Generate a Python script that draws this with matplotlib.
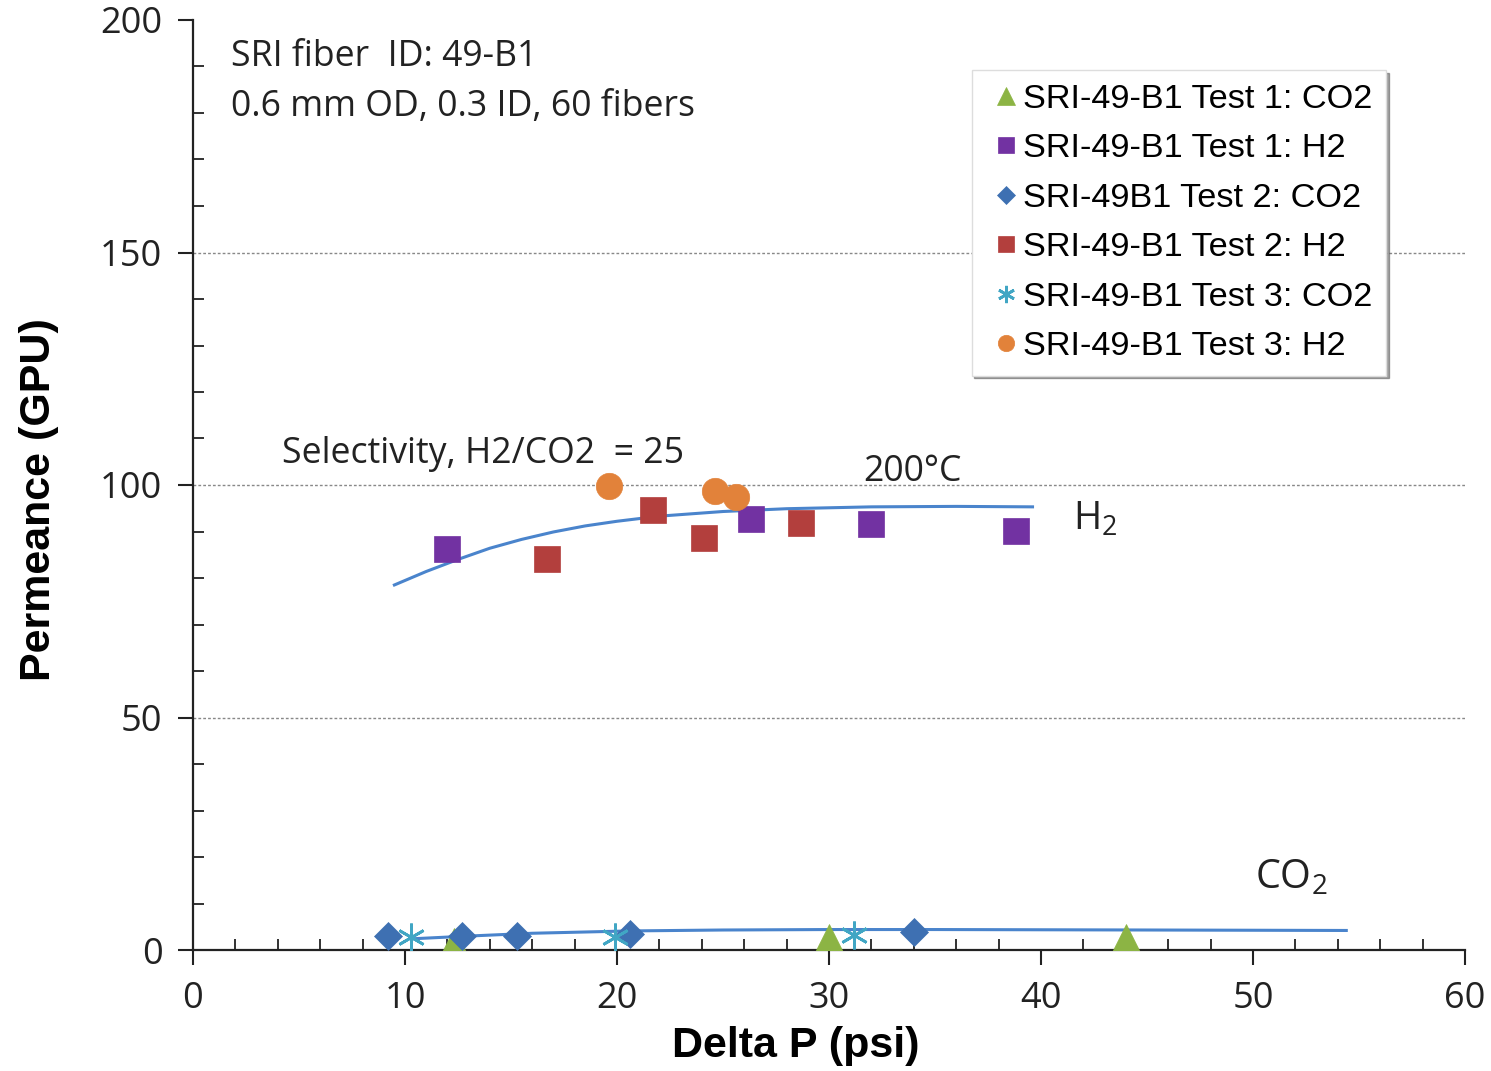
import matplotlib
matplotlib.use("Agg")
import matplotlib.pyplot as plt
from matplotlib.ticker import MultipleLocator

# --- data ---
t1_co2_x = [12.3, 30.0, 44.0]
t1_co2_y = [1.6, 2.3, 2.3]
t1_h2_x = [12.0, 26.3, 32.0, 38.8]
t1_h2_y = [86.2, 92.7, 91.6, 90.1]
t2_co2_x = [9.2, 12.7, 15.3, 20.6, 34.0]
t2_co2_y = [3.0, 3.0, 3.0, 3.4, 3.9]
t2_h2_x = [16.7, 21.7, 24.1, 28.7]
t2_h2_y = [84.1, 94.6, 88.6, 91.8]
t3_co2_x = [10.3, 19.9, 31.2]
t3_co2_y = [2.7, 2.9, 3.2]
t3_h2_x = [19.6, 24.6, 25.6]
t3_h2_y = [99.8, 98.7, 97.4]

# trend lines
h2_fit_x = [9.5, 11.0, 12.5, 14.0, 15.5, 17.0, 18.5, 20.0, 22.0, 25.0, 28.0, 32.0, 36.0, 39.6]
h2_fit_y = [78.5, 81.4, 84.0, 86.4, 88.3, 89.9, 91.2, 92.2, 93.3, 94.3, 94.9, 95.3, 95.4, 95.3]
co2_fit_x = [10.3, 13.0, 16.0, 20.6, 25.0, 30.0, 35.0, 45.0, 54.4]
co2_fit_y = [2.4, 3.0, 3.6, 4.1, 4.3, 4.4, 4.4, 4.3, 4.2]

series = [
    ("SRI-49-B1 Test 1: CO2", t1_co2_x, t1_co2_y, "^", "#8CB444", 22),
    ("SRI-49-B1 Test 1: H2", t1_h2_x, t1_h2_y, "s", "#7232A2", 19),
    ("SRI-49B1 Test 2: CO2", t2_co2_x, t2_co2_y, "D", "#3E70B2", 14),
    ("SRI-49-B1 Test 2: H2", t2_h2_x, t2_h2_y, "s", "#B33F3D", 19),
    ("SRI-49-B1 Test 3: CO2", t3_co2_x, t3_co2_y, (6, 2, 0), "#41A6C4", 20),
    ("SRI-49-B1 Test 3: H2", t3_h2_x, t3_h2_y, "o", "#E2823A", 19),
]

plt.rcParams["mathtext.fontset"] = "custom"
plt.rcParams["mathtext.rm"] = "Open Sans"

W, H = 1491, 1071
fig = plt.figure(figsize=(W / 100, H / 100), dpi=100)
ax = fig.add_axes([193 / W, 1 - 950 / H, 1272 / W, 930 / H])

line_c = "#4A84CC"
ax.plot(h2_fit_x, h2_fit_y, color=line_c, lw=2.2, zorder=2)
ax.plot(co2_fit_x, co2_fit_y, color=line_c, lw=2.2, zorder=2)

for label, xs, ys, mk, col, ms in series:
    if isinstance(mk, tuple):
        ax.plot(xs, ys, ls="none", marker=mk, markersize=ms, markeredgecolor=col,
                markeredgewidth=2.0, color=col, label=label, zorder=3)
    else:
        ax.plot(xs, ys, ls="none", marker=mk, markersize=ms, color=col,
                markeredgecolor=col, markeredgewidth=0.5, label=label, zorder=3)

ax.set_xlim(0, 60)
ax.set_ylim(0, 200)
ax.xaxis.set_major_locator(MultipleLocator(10))
ax.xaxis.set_minor_locator(MultipleLocator(2))
ax.yaxis.set_major_locator(MultipleLocator(50))
ax.yaxis.set_minor_locator(MultipleLocator(10))

for y in (50, 100, 150):
    ax.axhline(y, color="#888888", lw=1.0, ls=(0, (2, 1.5)), zorder=1)

for s in ("top", "right"):
    ax.spines[s].set_visible(False)
for s in ("left", "bottom"):
    ax.spines[s].set_linewidth(1.6)
    ax.spines[s].set_color("#222222")

tick_font = "Open Sans"
ax.tick_params(which="major", direction="out", length=11, width=1.5, labelsize=26,
               colors="#222222", pad=11)
ax.tick_params(which="minor", direction="in", length=8, width=1.3, colors="#222222")
for lab in ax.get_xticklabels() + ax.get_yticklabels():
    lab.set_fontfamily(tick_font)

ax.set_xlabel("Delta P (psi)", fontsize=31, fontweight="bold",
              fontfamily="Liberation Sans")
ax.set_ylabel("Permeance (GPU)", fontsize=31, fontweight="bold",
              fontfamily="Liberation Sans")
ax.xaxis.set_label_coords(0.474, -0.082)
ax.yaxis.set_label_coords(-0.105, 0.484)

ann = dict(fontsize=25.7, fontfamily="Open Sans", color="#222222")
ax.text(0.03, 0.960, "SRI fiber  ID: 49-B1", transform=ax.transAxes, va="center", **ann)
ax.text(0.03, 0.906, "0.6 mm OD, 0.3 ID, 60 fibers", transform=ax.transAxes, va="center", **ann)
ax.text(0.07, 0.533, "Selectivity, H2/CO2  = 25", transform=ax.transAxes, va="center", **ann)
ax.text(0.527, 0.514, "200°C", transform=ax.transAxes, va="center", **ann)
ax.text(0.692, 0.463, "H$_2$", transform=ax.transAxes, va="center",
        fontsize=27.5, fontfamily="Open Sans", color="#222222")
ax.text(0.835, 0.077, "CO$_2$", transform=ax.transAxes, va="center",
        fontsize=28.5, fontfamily="Open Sans", color="#222222")

leg = ax.legend(loc="upper right", bbox_to_anchor=(0.938, 0.946), frameon=True,
                fancybox=False, shadow=True, prop={"family": "Liberation Sans", "size": 24.7},
                handlelength=1.2, handletextpad=-0.1, borderpad=0.4, labelspacing=0.536,
                markerscale=0.62, borderaxespad=0)
leg.get_frame().set_edgecolor("#dddddd")
leg.get_frame().set_linewidth(1.0)

fig.savefig("out.png", dpi=100)
